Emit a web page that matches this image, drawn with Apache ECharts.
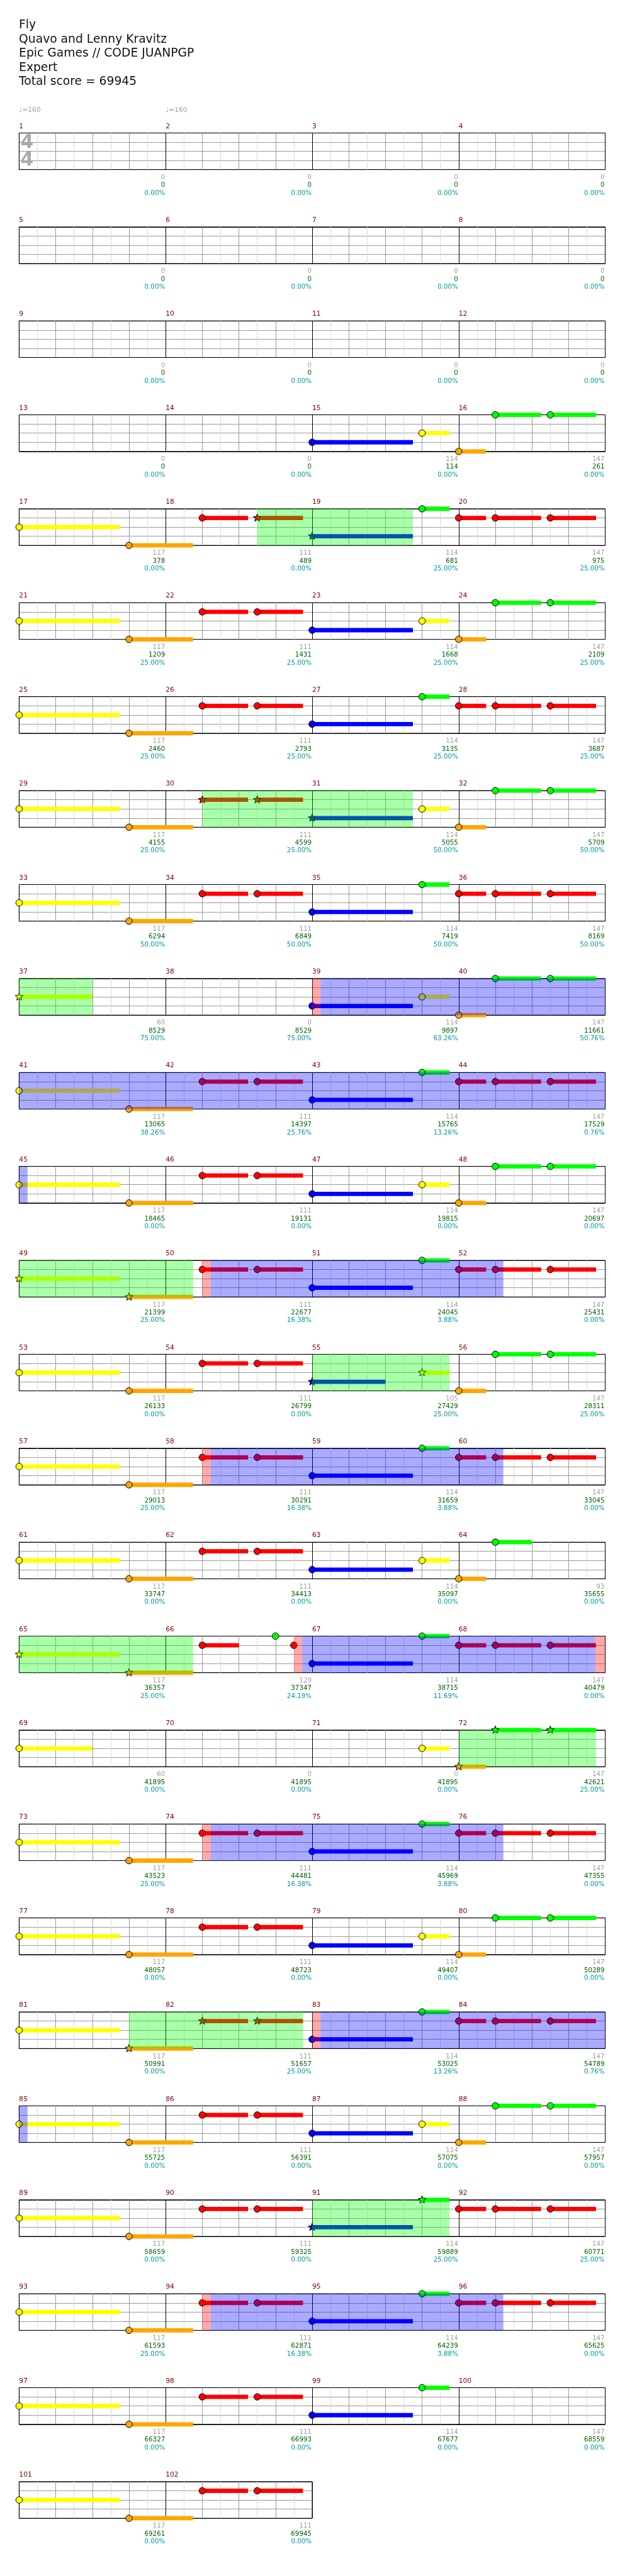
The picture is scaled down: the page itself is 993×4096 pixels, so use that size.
<!DOCTYPE html>
<html><head><meta charset="utf-8">
<script src="https://cdn.jsdelivr.net/npm/echarts@6/dist/echarts.min.js"></script>
<style>html,body{margin:0;padding:0;background:#fff}#c{width:993px;height:4096px}</style>
</head><body><div id="c"></div>
<script>
// ---------------- data ----------------
const TITLE_LINES = ['Fly', 'Quavo and Lenny Kravitz', 'Epic Games // CODE JUANPGP', 'Expert', 'Total score = 69945'];
const TEMPO_BEATS = [0, 4];
const TEMPO_BPM = [160, 160];
const TIME_SIG = ['4', '4'];
const LANE_COLORS = ['#00ff00', '#ff0000', '#ffff00', '#0000ff', '#ffa500'];
// notes: [beat (global, 4 per measure), lane 0-4 (G R Y B O), sustain beats, star-power note 0/1]
const NOTES = [
  [56,3,2.75,0],[59,2,0.75,0],[60,4,0.75,0],[61,0,1.25,0],[62.5,0,1.25,0],
  [64,2,2.75,0],[67,4,1.75,0],[69,1,1.25,0],[70.5,1,1.25,1],[72,3,2.75,1],[75,0,0.75,0],[76,1,0.75,0],[77,1,1.25,0],[78.5,1,1.25,0],
  [80,2,2.75,0],[83,4,1.75,0],[85,1,1.25,0],[86.5,1,1.25,0],[88,3,2.75,0],[91,2,0.75,0],[92,4,0.75,0],[93,0,1.25,0],[94.5,0,1.25,0],
  [96,2,2.75,0],[99,4,1.75,0],[101,1,1.25,0],[102.5,1,1.25,0],[104,3,2.75,0],[107,0,0.75,0],[108,1,0.75,0],[109,1,1.25,0],[110.5,1,1.25,0],
  [112,2,2.75,0],[115,4,1.75,0],[117,1,1.25,1],[118.5,1,1.25,1],[120,3,2.75,1],[123,2,0.75,0],[124,4,0.75,0],[125,0,1.25,0],[126.5,0,1.25,0],
  [128,2,2.75,0],[131,4,1.75,0],[133,1,1.25,0],[134.5,1,1.25,0],[136,3,2.75,0],[139,0,0.75,0],[140,1,0.75,0],[141,1,1.25,0],[142.5,1,1.25,0],
  [144,2,2,1],[152,3,2.75,0],[155,2,0.75,0],[156,4,0.75,0],[157,0,1.25,0],[158.5,0,1.25,0],
  [160,2,2.75,0],[163,4,1.75,0],[165,1,1.25,0],[166.5,1,1.25,0],[168,3,2.75,0],[171,0,0.75,0],[172,1,0.75,0],[173,1,1.25,0],[174.5,1,1.25,0],
  [176,2,2.75,0],[179,4,1.75,0],[181,1,1.25,0],[182.5,1,1.25,0],[184,3,2.75,0],[187,2,0.75,0],[188,4,0.75,0],[189,0,1.25,0],[190.5,0,1.25,0],
  [192,2,2.75,1],[195,4,1.75,1],[197,1,1.25,0],[198.5,1,1.25,0],[200,3,2.75,0],[203,0,0.75,0],[204,1,0.75,0],[205,1,1.25,0],[206.5,1,1.25,0],
  [208,2,2.75,0],[211,4,1.75,0],[213,1,1.25,0],[214.5,1,1.25,0],[216,3,2,1],[219,2,0.75,1],[220,4,0.75,0],[221,0,1.25,0],[222.5,0,1.25,0],
  [224,2,2.75,0],[227,4,1.75,0],[229,1,1.25,0],[230.5,1,1.25,0],[232,3,2.75,0],[235,0,0.75,0],[236,1,0.75,0],[237,1,1.25,0],[238.5,1,1.25,0],
  [240,2,2.75,0],[243,4,1.75,0],[245,1,1.25,0],[246.5,1,1.25,0],[248,3,2.75,0],[251,2,0.75,0],[252,4,0.75,0],[253,0,1,0],
  [256,2,2.75,1],[259,4,1.75,1],[261,1,1,0],[263,0,0,0],[263.5,1,0,0],[264,3,2.75,0],[267,0,0.75,0],[268,1,0.75,0],[269,1,1.25,0],[270.5,1,1.25,0],
  [272,2,2,0],[283,2,0.75,0],[284,4,0.75,1],[285,0,1.25,1],[286.5,0,1.25,1],
  [288,2,2.75,0],[291,4,1.75,0],[293,1,1.25,0],[294.5,1,1.25,0],[296,3,2.75,0],[299,0,0.75,0],[300,1,0.75,0],[301,1,1.25,0],[302.5,1,1.25,0],
  [304,2,2.75,0],[307,4,1.75,0],[309,1,1.25,0],[310.5,1,1.25,0],[312,3,2.75,0],[315,2,0.75,0],[316,4,0.75,0],[317,0,1.25,0],[318.5,0,1.25,0],
  [320,2,2.75,0],[323,4,1.75,1],[325,1,1.25,1],[326.5,1,1.25,1],[328,3,2.75,0],[331,0,0.75,0],[332,1,0.75,0],[333,1,1.25,0],[334.5,1,1.25,0],
  [336,2,2.75,0],[339,4,1.75,0],[341,1,1.25,0],[342.5,1,1.25,0],[344,3,2.75,0],[347,2,0.75,0],[348,4,0.75,0],[349,0,1.25,0],[350.5,0,1.25,0],
  [352,2,2.75,0],[355,4,1.75,0],[357,1,1.25,0],[358.5,1,1.25,0],[360,3,2.75,1],[363,0,0.75,1],[364,1,0.75,0],[365,1,1.25,0],[366.5,1,1.25,0],
  [368,2,2.75,0],[371,4,1.75,0],[373,1,1.25,0],[374.5,1,1.25,0],[376,3,2.75,0],[379,0,0.75,0],[380,1,0.75,0],[381,1,1.25,0],[382.5,1,1.25,0],
  [384,2,2.75,0],[387,4,1.75,0],[389,1,1.25,0],[390.5,1,1.25,0],[392,3,2.75,0],[395,0,0.75,0],
  [400,2,2.75,0],[403,4,1.75,0],[405,1,1.25,0],[406.5,1,1.25,0]
];
// star power phrases [start, end] in global beats
const SP_PHRASES = [[70.5,74.75],[117,122.75],[144,146],[192,196.75],[216,219.75],[256,260.75],[284,287.75],[323,327.75],[360,363.75]];
// activations [start, end]
const ACTIVATIONS = [[152.23,176.23],[197.23,205.22],[229.23,237.22],[263.73,271.73],[293.23,301.22],[328.23,336.23],[373.23,381.22]];
// activation start markers [start, end]
const ACT_MARKS = [[152,152.23],[197,197.23],[229,229.23],[263.5,263.73],[271.73,272],[293,293.23],[328,328.23],[373,373.23]];
const MEASURE_SCORE = [
  0,0,0,0, 0,0,0,0, 0,0,0,0, 0,0,114,147,
  117,111,114,147, 117,111,114,147, 117,111,114,147, 117,111,114,147,
  117,111,114,147, 60,0,114,147, 117,111,114,147, 117,111,114,147,
  117,111,114,147, 117,111,105,147, 117,111,114,147, 117,111,114,93,
  117,129,114,147, 60,0,0,147, 117,111,114,147, 117,111,114,147,
  117,111,114,147, 117,111,114,147, 117,111,114,147, 117,111,114,147,
  117,111,114,147, 117,111];
const TOTAL_SCORE = [
  0,0,0,0, 0,0,0,0, 0,0,0,0, 0,0,114,261,
  378,489,681,975, 1209,1431,1668,2109, 2460,2793,3135,3687, 4155,4599,5055,5709,
  6294,6849,7419,8169, 8529,8529,9897,11661, 13065,14397,15765,17529, 18465,19131,19815,20697,
  21399,22677,24045,25431, 26133,26799,27429,28311, 29013,30291,31659,33045, 33747,34413,35097,35655,
  36357,37347,38715,40479, 41895,41895,41895,42621, 43523,44481,45969,47355, 48057,48723,49407,50289,
  50991,51657,53025,54789, 55725,56391,57075,57957, 58659,59325,59889,60771, 61593,62871,64239,65625,
  66327,66993,67677,68559, 69261,69945];
const SP_PERCENT = [
  '0.00%','0.00%','0.00%','0.00%', '0.00%','0.00%','0.00%','0.00%', '0.00%','0.00%','0.00%','0.00%', '0.00%','0.00%','0.00%','0.00%',
  '0.00%','0.00%','25.00%','25.00%', '25.00%','25.00%','25.00%','25.00%', '25.00%','25.00%','25.00%','25.00%', '25.00%','25.00%','50.00%','50.00%',
  '50.00%','50.00%','50.00%','50.00%', '75.00%','75.00%','63.26%','50.76%', '38.26%','25.76%','13.26%','0.76%', '0.00%','0.00%','0.00%','0.00%',
  '25.00%','16.38%','3.88%','0.00%', '0.00%','0.00%','25.00%','25.00%', '25.00%','16.38%','3.88%','0.00%', '0.00%','0.00%','0.00%','0.00%',
  '25.00%','24.19%','11.69%','0.00%', '0.00%','0.00%','0.00%','25.00%', '25.00%','16.38%','3.88%','0.00%', '0.00%','0.00%','0.00%','0.00%',
  '0.00%','25.00%','13.26%','0.76%', '0.00%','0.00%','0.00%','0.00%', '0.00%','0.00%','25.00%','25.00%', '25.00%','16.38%','3.88%','0.00%',
  '0.00%','0.00%','0.00%','0.00%', '0.00%','0.00%'];
const MEASURE_NUMBERS = MEASURE_SCORE.map((v, i) => i + 1);

// ---------------- layout / style ----------------
const S = 0.97;
const ROW_TOP0 = 218, ROW_STEP = 154, STAFF_LEFT = 31.3, BEAT_W = 60, LANE_H = 15;
const MEASURES_PER_ROW = 4, BEATS_PER_MEASURE = 4;
const FONT = 'DejaVu Sans';
const HEAD_R = 5.4 * S, SUS_H = 7 * S;

function starPoints(cx, cy) {
  const pts = [], ro = 6.8 * S, ri = 2.9 * S;
  for (let i = 0; i < 10; i++) {
    const a = -Math.PI / 2 + i * Math.PI / 5, rr = i % 2 ? ri : ro;
    pts.push([cx + rr * Math.cos(a), cy + rr * Math.sin(a)]);
  }
  return pts;
}
function txt(x, y, text, color, size, align, valign, weight) {
  return {type: 'text', x: x, y: y, style: {text: text, fill: color, fontSize: size, fontFamily: FONT, fontWeight: weight || 'normal',
    align: align, verticalAlign: valign, textAlign: align, textVerticalAlign: valign}};
}

const nMeasures = MEASURE_NUMBERS.length;
const nRows = Math.ceil(nMeasures / MEASURES_PER_ROW);
const grids = [], xAxes = [], yAxes = [], series = [];
const OV_COLORS = ['rgba(0,255,0,0.333)', 'rgba(0,0,255,0.333)', 'rgba(255,0,0,0.333)'];

for (let r = 0; r < nRows; r++) {
  const m0 = r * MEASURES_PER_ROW;
  const mCount = Math.min(MEASURES_PER_ROW, nMeasures - m0);
  const b0 = m0 * BEATS_PER_MEASURE, b1 = (m0 + mCount) * BEATS_PER_MEASURE;
  grids.push({left: STAFF_LEFT * S, top: (ROW_TOP0 + r * ROW_STEP) * S, width: (b1 - b0) * BEAT_W * S, height: 4 * LANE_H * S,
    show: true, borderColor: '#000', borderWidth: 1, backgroundColor: 'transparent'});
  xAxes.push({type: 'value', gridIndex: r, min: b0, max: b1, interval: 0.5,
    axisLine: {show: false}, axisTick: {show: false}, axisLabel: {show: false},
    splitLine: {show: true, lineStyle: {width: 1, color: ['#000', '#dcdcdc', '#999', '#dcdcdc', '#999', '#dcdcdc', '#999', '#dcdcdc']}}});
  yAxes.push({type: 'value', gridIndex: r, min: 0, max: 4, interval: 1, inverse: true,
    axisLine: {show: false}, axisTick: {show: false}, axisLabel: {show: false},
    splitLine: {show: true, lineStyle: {width: 1, color: ['#000', '#999', '#999', '#999', '#000']}}});

  // notes
  const rowNotes = NOTES.filter(n => n[0] >= b0 && n[0] < b1);
  series.push({type: 'custom', xAxisIndex: r, yAxisIndex: r, z: 3, clip: false, silent: true, animation: false,
    encode: {x: 0, y: 1}, data: rowNotes,
    renderItem: function (params, api) {
      const t = api.value(0), lane = api.value(1), sus = api.value(2), star = api.value(3);
      const p = api.coord([t, lane]);
      const ch = [];
      if (sus > 0) {
        const q = api.coord([t + sus, lane]);
        ch.push({type: 'rect', shape: {x: p[0], y: p[1] - SUS_H / 2, width: q[0] - p[0], height: SUS_H}, style: {fill: LANE_COLORS[lane]}});
      }
      if (star) ch.push({type: 'polygon', shape: {points: starPoints(p[0], p[1])}, style: {fill: LANE_COLORS[lane], stroke: '#000', lineWidth: 1}});
      else ch.push({type: 'circle', shape: {cx: p[0], cy: p[1], r: HEAD_R}, style: {fill: LANE_COLORS[lane], stroke: '#000', lineWidth: 1}});
      return {type: 'group', children: ch};
    }});

  // overlays (drawn above notes, translucent)
  const ov = [];
  const addOv = (list, kind) => list.forEach(iv => {
    const a = Math.max(iv[0], b0), b = Math.min(iv[1], b1);
    if (b > a) ov.push([a, 0, b, kind]);
  });
  addOv(SP_PHRASES, 0); addOv(ACTIVATIONS, 1); addOv(ACT_MARKS, 2);
  series.push({type: 'custom', xAxisIndex: r, yAxisIndex: r, z: 4, clip: false, silent: true, animation: false,
    encode: {x: 0, y: 1}, data: ov,
    renderItem: function (params, api) {
      const p = api.coord([api.value(0), 0]), q = api.coord([api.value(2), 4]);
      return {type: 'rect', shape: {x: p[0], y: p[1], width: q[0] - p[0], height: q[1] - p[1]}, style: {fill: OV_COLORS[api.value(3)]}};
    }});

  // measure numbers and score texts
  const labs = [];
  for (let k = 0; k < mCount; k++) {
    const m = m0 + k;
    labs.push([m * BEATS_PER_MEASURE, 0, (m + 1) * BEATS_PER_MEASURE, m]);
  }
  series.push({type: 'custom', xAxisIndex: r, yAxisIndex: r, z: 5, clip: false, silent: true, animation: false,
    encode: {x: 0, y: 1}, data: labs,
    renderItem: function (params, api) {
      const m = api.value(3);
      const p = api.coord([api.value(0), 0]);
      const q = api.coord([api.value(2), 4]);
      const fs = 10.6 * S;
      return {type: 'group', children: [
        txt(p[0], p[1] - 11 * S, String(MEASURE_NUMBERS[m]), '#800000', 11 * S, 'left', 'middle'),
        txt(q[0] - 1 * S, q[1] + 13 * S, String(MEASURE_SCORE[m]), '#a0a0a0', fs, 'right', 'middle'),
        txt(q[0] - 1 * S, q[1] + 25.8 * S, String(TOTAL_SCORE[m]), '#006400', fs, 'right', 'middle'),
        txt(q[0] - 1 * S, q[1] + 38.6 * S, SP_PERCENT[m], '#009999', fs, 'right', 'middle')
      ]};
    }});

  if (r === 0) {
    // tempo marks and time signature
    const tdata = TEMPO_BEATS.map((b, i) => [b, 0, TEMPO_BPM[i]]);
    series.push({type: 'custom', xAxisIndex: r, yAxisIndex: r, z: 5, clip: false, silent: true, animation: false,
      encode: {x: 0, y: 1}, data: tdata,
      renderItem: function (params, api) {
        const p = api.coord([api.value(0), 0]);
        const ch = [txt(p[0], p[1] - 37 * S, '\u2669=' + api.value(2), '#a0a0a0', 11 * S, 'left', 'middle')];
        if (params.dataIndex === 0) {
          const q1 = api.coord([api.value(0), 1]), q3 = api.coord([api.value(0), 3]);
          ch.push(txt(p[0] + 13 * S, q1[1] + 1.5 * S, TIME_SIG[0], '#aaaaaa', 31 * S, 'center', 'middle', 'bold'));
          ch.push(txt(p[0] + 13 * S, q3[1] + 0.5 * S, TIME_SIG[1], '#aaaaaa', 31 * S, 'center', 'middle', 'bold'));
        }
        return {type: 'group', children: ch};
      }});
  }
}

const chart = echarts.init(document.getElementById('c'), null, {renderer: 'canvas', width: 993, height: 4096});
chart.setOption({
  animation: false,
  backgroundColor: '#fff',
  title: {text: TITLE_LINES.join('\n'), left: 31 * S, top: 30 * S, padding: 0,
    textStyle: {fontFamily: FONT, fontSize: 19.3 * S, fontWeight: 'normal', color: '#111', lineHeight: 23.2 * S}},
  grid: grids, xAxis: xAxes, yAxis: yAxes, series: series
});
</script></body></html>
